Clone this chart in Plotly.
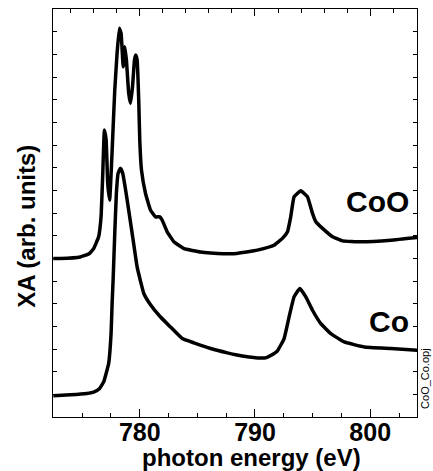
import plotly.graph_objects as go

# ---- data ----
co_energy = [772.5, 774.0, 775.4, 776.0, 776.5, 776.87, 777.3, 777.51, 777.6, 777.69, 777.83,
             777.97, 778.12, 778.32, 778.52, 778.9, 779.34, 779.77, 780.06, 780.35, 780.87,
             781.8, 782.67, 783.69, 784.7, 786.15, 787.6, 789.04, 790.5, 791.0, 791.4,
             791.95, 792.52, 792.96, 793.39, 793.89, 794.41, 794.99, 795.71, 796.58, 797.74,
             799.48, 801.8, 804.12]
co_xa = [0.94, 0.98, 1.04, 1.10, 1.25, 1.55, 2.36, 3.68, 5.0, 6.1, 8.1,
         9.86, 10.75, 10.97, 10.75, 9.6, 8.1, 6.62, 6.0, 5.45, 5.0,
         4.41, 3.97, 3.46, 3.27, 3.02, 2.83, 2.68, 2.6, 2.62, 2.72,
         2.92, 3.45, 4.42, 5.3, 5.67, 5.3, 4.71, 4.12, 3.68, 3.31,
         3.09, 3.02, 2.94]

coo_energy = [772.5, 773.1, 774.84, 775.6, 776.0, 776.43, 776.64, 776.78, 776.93, 777.08, 777.22,
              777.39, 777.54, 777.69, 777.83, 778.03, 778.23, 778.38, 778.56, 778.70, 778.84,
              779.04, 779.19, 779.37, 779.54, 779.65, 779.77, 779.91, 780.0, 780.15, 780.5,
              780.93, 781.37, 781.74, 781.95, 782.38, 782.96, 783.83, 785.28, 786.15, 788.17,
              789.91, 790.21, 791.65, 792.38, 792.82, 793.10, 793.39, 793.97, 794.56, 794.99,
              795.28, 795.86, 796.73, 797.6, 799.19, 801.8, 804.12]
coo_xa = [6.99, 6.99, 7.06, 7.2, 7.43, 7.95, 8.83, 10.6, 12.66, 12.22, 10.3,
          9.57, 11.04, 12.8, 14.42, 16.04, 17.15, 16.93, 15.45, 16.34, 15.75,
          14.28, 13.84, 14.57, 15.75, 15.97, 15.75, 13.98, 12.22, 10.89, 9.86,
          9.13, 8.83, 8.83, 8.68, 8.17, 7.73, 7.43, 7.28, 7.24, 7.2,
          7.33, 7.36, 7.58, 7.88, 8.17, 8.83, 9.71, 9.98, 9.71, 8.98,
          8.61, 8.32, 7.95, 7.77, 7.73, 7.80, 7.92]

x_range = [772.47, 804.06]
y_range = [0, 18]

labels = ["CoO", "Co"]
label_x = [803.5, 803.5]
label_y = [9.49, 4.23]

x_title = "photon energy (eV)"
y_title = "XA (arb. units)"
file_tag = "CoO_Co.opj"

FONT = "Liberation Sans, Arial, Helvetica, sans-serif"

fig = go.Figure()
fig.add_trace(go.Scatter(x=coo_energy, y=coo_xa, mode="lines", name="CoO",
                         line=dict(color="black", width=3.5, shape="spline", smoothing=0.3),
                         showlegend=False))
fig.add_trace(go.Scatter(x=co_energy, y=co_xa, mode="lines", name="Co",
                         line=dict(color="black", width=3.5, shape="spline", smoothing=0.3),
                         showlegend=False))
# invisible trace so the top (mirror) axis is drawn
fig.add_trace(go.Scatter(x=co_energy, y=co_xa, mode="none", xaxis="x2",
                         showlegend=False, hoverinfo="skip"))

for t, xx, yy in zip(labels, label_x, label_y):
    fig.add_annotation(x=xx, y=yy, xref="x", yref="y", text=t, showarrow=False,
                       xanchor="right", yanchor="middle",
                       font=dict(family=FONT, size=30, color="black", weight="bold"))

fig.add_annotation(x=0.546, y=-0.099, xref="paper", yref="paper", text=x_title,
                   showarrow=False, xanchor="center", yanchor="middle",
                   font=dict(family=FONT, size=24, color="black", weight="bold"))
fig.add_annotation(x=-0.075, y=0.468, xref="paper", yref="paper", text=y_title,
                   showarrow=False, xanchor="center", yanchor="middle", textangle=-90,
                   font=dict(family=FONT, size=24, color="black", weight="bold"))
fig.add_annotation(x=1.02, y=0.094, xref="paper", yref="paper", text=file_tag,
                   showarrow=False, xanchor="center", yanchor="middle", textangle=-90,
                   font=dict(family=FONT, size=11, color="black"))

fig.update_layout(
    width=433, height=471,
    margin=dict(l=53, r=16, t=9, b=54),
    paper_bgcolor="white", plot_bgcolor="white",
    xaxis=dict(range=x_range, dtick=10, tick0=0, ticks="inside", ticklen=8,
               tickcolor="black", tickwidth=1, ticklabelstandoff=-7,
               minor=dict(dtick=2.5, tick0=0, ticks="inside", ticklen=4, tickcolor="black"),
               showline=True, linecolor="black", linewidth=1, mirror=False,
               showgrid=False, zeroline=False,
               tickfont=dict(family=FONT, size=25, color="black", weight="bold")),
    xaxis2=dict(range=x_range, overlaying="x", side="top", dtick=10, tick0=0,
                ticks="inside", ticklen=7, tickcolor="black",
                minor=dict(dtick=2, tick0=0, ticks="inside", ticklen=4, tickcolor="black"),
                showline=True, linecolor="black", linewidth=1,
                showticklabels=False, showgrid=False, zeroline=False),
    yaxis=dict(range=y_range, dtick=1, tick0=0, ticks="inside", ticklen=4,
               tickcolor="black", showticklabels=False,
               showline=True, linecolor="black", linewidth=1, mirror="ticks",
               showgrid=False, zeroline=False),
)

fig.write_html("out.html")
